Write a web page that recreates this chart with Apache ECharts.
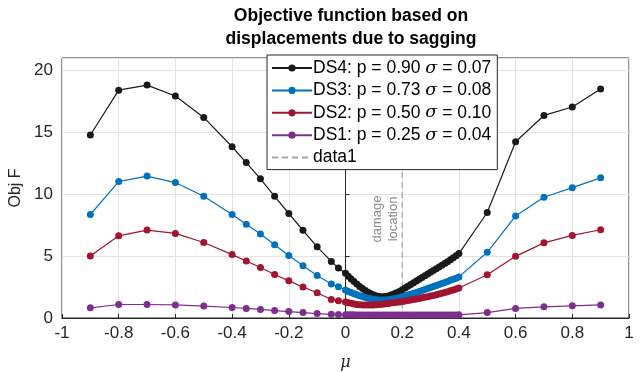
<!DOCTYPE html>
<html>
<head>
<meta charset="utf-8">
<script src="https://cdn.jsdelivr.net/npm/echarts@6/dist/echarts.min.js"></script>
<style>
  html, body { margin: 0; padding: 0; background: #fff; }
  #chart { width: 643px; height: 372px; }
</style>
</head>
<body>
<div id="chart"></div>
<script>
  // mu positions: coarse grid, then the dense run 0..0.4, then coarse again
  const mu = [-0.9, -0.8, -0.7, -0.6, -0.5, -0.4, -0.35, -0.3, -0.25, -0.2, -0.15, -0.1, -0.05, -0.025,
    0, 0.01, 0.02, 0.03, 0.04, 0.05, 0.06, 0.07, 0.08, 0.09,
    0.1, 0.11, 0.12, 0.13, 0.14, 0.15, 0.16, 0.17, 0.18, 0.19,
    0.2, 0.21, 0.22, 0.23, 0.24, 0.25, 0.26, 0.27, 0.28, 0.29,
    0.3, 0.31, 0.32, 0.33, 0.34, 0.35, 0.36, 0.37, 0.38, 0.39,
    0.4, 0.5, 0.6, 0.7, 0.8, 0.9]

  const ds4 = [14.78, 18.4, 18.81, 17.93, 16.2, 13.83, 12.55, 11.24, 9.83, 8.44, 7.08, 5.75, 4.57, 4.03,
    3.62, 3.38, 3.15, 2.94, 2.74, 2.55, 2.38, 2.22, 2.08, 1.96,
    1.86, 1.78, 1.73, 1.71, 1.73, 1.78, 1.85, 1.94, 2.04, 2.15,
    2.28, 2.42, 2.56, 2.70, 2.85, 2.99, 3.13, 3.28, 3.42, 3.56,
    3.70, 3.84, 3.98, 4.12, 4.26, 4.40, 4.55, 4.70, 4.86, 5.02,
    5.20, 8.52, 14.24, 16.36, 17.04, 18.5]

  const ds3 = [8.36, 11.02, 11.46, 10.94, 9.83, 8.36, 7.57, 6.78, 5.91, 5.04, 4.22, 3.43, 2.75, 2.53,
    2.26, 2.15, 2.05, 1.96, 1.88, 1.80, 1.73, 1.66, 1.60, 1.55,
    1.51, 1.48, 1.46, 1.45, 1.46, 1.48, 1.51, 1.55, 1.60, 1.65,
    1.71, 1.78, 1.85, 1.92, 1.99, 2.06, 2.14, 2.22, 2.30, 2.38,
    2.46, 2.54, 2.62, 2.70, 2.78, 2.86, 2.95, 3.04, 3.13, 3.22,
    3.32, 5.31, 8.24, 9.75, 10.53, 11.32]

  const ds2 = [5.01, 6.64, 7.1, 6.83, 6.1, 5.12, 4.6, 4.08, 3.51, 3.0, 2.5, 2.04, 1.5, 1.4,
    1.30, 1.24, 1.19, 1.14, 1.10, 1.07, 1.05, 1.04, 1.04, 1.05,
    1.06, 1.08, 1.10, 1.12, 1.15, 1.18, 1.21, 1.24, 1.27, 1.30,
    1.33, 1.37, 1.41, 1.45, 1.49, 1.54, 1.58, 1.63, 1.67, 1.72,
    1.77, 1.82, 1.88, 1.94, 2.00, 2.06, 2.13, 2.20, 2.27, 2.34,
    2.42, 3.49, 4.98, 6.07, 6.67, 7.13]

  const ds1 = [0.82, 1.09, 1.09, 1.06, 0.96, 0.85, 0.77, 0.69, 0.6, 0.52, 0.44, 0.36, 0.3, 0.28,
    0.26, 0.26, 0.26, 0.26, 0.25, 0.25, 0.25, 0.25, 0.25, 0.25,
    0.24, 0.24, 0.24, 0.24, 0.24, 0.24, 0.24, 0.24, 0.24, 0.24,
    0.24, 0.24, 0.24, 0.24, 0.24, 0.24, 0.24, 0.24, 0.24, 0.24,
    0.24, 0.24, 0.24, 0.25, 0.25, 0.25, 0.25, 0.25, 0.25, 0.25,
    0.26, 0.44, 0.77, 0.9, 0.98, 1.06]

  const legendNames = ['DS4: p = 0.90 {s|σ} = 0.07', 'DS3: p = 0.73 {s|σ} = 0.08',
    'DS2: p = 0.50 {s|σ} = 0.10', 'DS1: p = 0.25 {s|σ} = 0.04']
  const seriesColors = ['#1a1a1a', '#0072bd', '#a2142f', '#7e2f8e']
  const damageX = [0.2, 0.2]
  const damageY = [0, 21]

  const font = 'Liberation Sans, Arial, sans-serif'

  function pairs(xs, ys) {
    return xs.map((x, i) => [x, ys[i]])
  }

  const curveSeries = [ds4, ds3, ds2, ds1].map((vals, i) => ({
    name: legendNames[i],
    type: 'line',
    data: pairs(mu, vals),
    symbol: 'circle',
    symbolSize: 7,
    color: seriesColors[i],
    lineStyle: { width: 1.2, color: seriesColors[i] },
    itemStyle: { color: seriesColors[i] },
    z: 3
  }))

  let chart = echarts.init(document.getElementById('chart'))
  chart.setOption({
    animation: false,
    title: {
      text: 'Objective function based on\ndisplacements due to sagging',
      left: 346,
      top: 0,
      textAlign: 'center',
      textStyle: { fontFamily: font, fontSize: 17.5, fontWeight: 'bold', color: '#000', lineHeight: 23 }
    },
    legend: {
      orient: 'vertical',
      left: 267,
      top: 55,
      padding: [4, 6, 3, 4],
      itemGap: 4.4,
      itemWidth: 40,
      itemHeight: 9,
      backgroundColor: '#fff',
      borderColor: '#262626',
      borderWidth: 1,
      borderRadius: 0,
      data: legendNames.concat([{ name: 'data1', itemStyle: { opacity: 0 } }]),
      formatter: name => name,
      textStyle: {
        fontFamily: font,
        fontSize: 17.5,
        color: '#000',
        padding: [0, 0, 0, -4],
        rich: { s: { fontFamily: 'DejaVu Serif, serif', fontStyle: 'italic', fontSize: 17.5, color: '#000' } }
      }
    },
    grid: {
      left: 62, right: 14, top: 58, bottom: 54,
      outerBoundsMode: 'none',
      show: true, borderColor: '#262626', borderWidth: 1
    },
    xAxis: {
      type: 'value',
      min: -1,
      max: 1,
      interval: 0.2,
      name: 'μ',
      nameLocation: 'middle',
      nameGap: 37,
      nameTextStyle: { fontFamily: 'DejaVu Serif, serif', fontStyle: 'italic', fontSize: 16, color: '#262626' },
      axisLine: { onZero: false, lineStyle: { color: '#262626' } },
      axisTick: { inside: true, length: 4, lineStyle: { color: '#262626' } },
      axisLabel: { fontFamily: font, fontSize: 17, color: '#262626', margin: 7, formatter: v => String(+v.toFixed(1)) },
      splitLine: { lineStyle: { color: '#e3e3e3' } }
    },
    yAxis: {
      type: 'value',
      min: 0,
      max: 21,
      interval: 5,
      name: 'Obj F',
      nameLocation: 'middle',
      nameGap: 33,
      nameTextStyle: { fontFamily: font, fontSize: 16, color: '#262626' },
      axisLine: { show: true, lineStyle: { color: '#262626' } },
      axisTick: { show: true, inside: true, length: 4, lineStyle: { color: '#262626' } },
      axisLabel: { fontFamily: font, fontSize: 17, color: '#262626', margin: 9, showMaxLabel: false },
      splitLine: { lineStyle: { color: '#e3e3e3' } }
    },
    series: curveSeries.concat([{
      name: 'data1',
      type: 'line',
      data: pairs(damageX, damageY),
      symbol: 'none',
      color: '#a6a6a6',
      lineStyle: { type: [6, 4], width: 1.2, color: '#a6a6a6' },
      z: 2
    }])
  })

  // rotated annotation next to the damage line
  let p = chart.convertToPixel({ gridIndex: 0 }, [0.2, 8.0])
  chart.setOption({
    graphic: [{
      type: 'text',
      x: p[0] - 17,
      y: p[1],
      rotation: Math.PI / 2,
      style: {
        text: 'damage\nlocation',
        fontFamily: font,
        fontSize: 13,
        lineHeight: 16,
        fill: '#8c8c8c',
        align: 'center',
        verticalAlign: 'middle'
      }
    }]
  })
</script>
</body>
</html>
